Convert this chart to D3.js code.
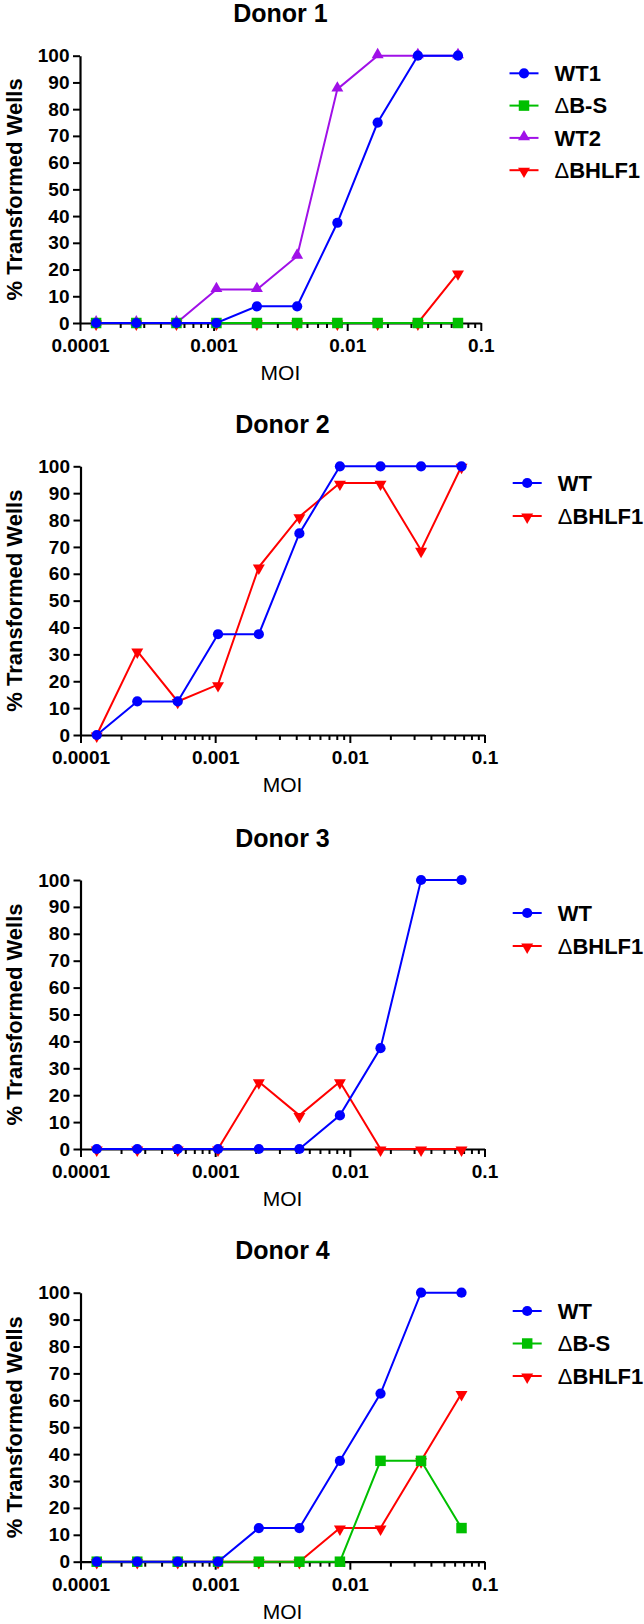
<!DOCTYPE html>
<html><head><meta charset="utf-8">
<script src="https://cdn.jsdelivr.net/npm/d3@7"></script>
<style>
body{margin:0;background:#fff}
svg text{font-family:"Liberation Sans",Arial,Helvetica,sans-serif}
</style>
</head><body>
<svg id="chart" width="644" height="1624"></svg>
<script>
// ---------- data ----------
const moi = [0.000132, 0.000264, 0.000527, 0.00105, 0.00211, 0.00422, 0.00844, 0.0169, 0.0338, 0.0675];
const donorTitles = ["Donor 1", "Donor 2", "Donor 3", "Donor 4"];

const donor1WT1    = [0, 0, 0, 0, 6.25, 6.25, 37.5, 75, 100, 100];
const donor1BS     = [0, 0, 0, 0, 0, 0, 0, 0, 0, 0];
const donor1WT2    = [0, 0, 0, 12.5, 12.5, 25, 87.5, 100, 100, 100];
const donor1BHLF1  = [0, 0, 0, 0, 0, 0, 0, 0, 0, 18.75];

const donor2WT     = [0, 12.5, 12.5, 37.5, 37.5, 75, 100, 100, 100, 100];
const donor2BHLF1  = [0, 31.25, 12.5, 18.75, 62.5, 81.25, 93.75, 93.75, 68.75, 100];

const donor3WT     = [0, 0, 0, 0, 0, 0, 12.5, 37.5, 100, 100];
const donor3BHLF1  = [0, 0, 0, 0, 25, 12.5, 25, 0, 0, 0];

const donor4WT     = [0, 0, 0, 0, 12.5, 12.5, 37.5, 62.5, 100, 100];
const donor4BS     = [0, 0, 0, 0, 0, 0, 0, 37.5, 37.5, 12.5];
const donor4BHLF1  = [0, 0, 0, 0, 0, 0, 12.5, 12.5, 37.5, 62.5];

const yTickValues = [0, 10, 20, 30, 40, 50, 60, 70, 80, 90, 100];
const xTickValues = [0.0001, 0.001, 0.01, 0.1];
const xTickLabels = ["0.0001", "0.001", "0.01", "0.1"];
const xMinorTicks = [2e-4,3e-4,4e-4,5e-4,6e-4,7e-4,8e-4,9e-4,
                     2e-3,3e-3,4e-3,5e-3,6e-3,7e-3,8e-3,9e-3,
                     2e-2,3e-2,4e-2,5e-2,6e-2,7e-2,8e-2,9e-2];
const xLabel = "MOI";
const yLabel = "% Transformed Wells";

// ---------- styles ----------
const styleWT   = {color: "#0000ff", shape: "circle"};
const styleBS   = {color: "#00bf00", shape: "square"};
const styleWT2  = {color: "#a010e8", shape: "up"};
const styleBH   = {color: "#ff0000", shape: "down"};

const panels = [
  {title: donorTitles[0], series: [
    {name: "WT1", values: donor1WT1, st: styleWT},
    {name: "\u0394B-S", values: donor1BS, st: styleBS},
    {name: "WT2", values: donor1WT2, st: styleWT2},
    {name: "\u0394BHLF1", values: donor1BHLF1, st: styleBH}]},
  {title: donorTitles[1], series: [
    {name: "WT", values: donor2WT, st: styleWT},
    {name: "\u0394BHLF1", values: donor2BHLF1, st: styleBH}]},
  {title: donorTitles[2], series: [
    {name: "WT", values: donor3WT, st: styleWT},
    {name: "\u0394BHLF1", values: donor3BHLF1, st: styleBH}]},
  {title: donorTitles[3], series: [
    {name: "WT", values: donor4WT, st: styleWT},
    {name: "\u0394B-S", values: donor4BS, st: styleBS},
    {name: "\u0394BHLF1", values: donor4BHLF1, st: styleBH}]}
];

// ---------- layout ----------
const layout = [
  {top: 55.7, bottom: 323,   x0: 80,   x1: 480.8, legX: 509.5, legY: 73.3,  legGap: 32.3},
  {top: 466.3, bottom: 735,  x0: 80.5, x1: 484.5, legX: 512.7, legY: 483,   legGap: 33},
  {top: 880,  bottom: 1149,  x0: 80.5, x1: 484.5, legX: 512.7, legY: 913,   legGap: 33},
  {top: 1292.7, bottom: 1561.7, x0: 80.5, x1: 484.5, legX: 512.7, legY: 1311, legGap: 32.5}
];

const svg = d3.select("#chart");

function symbolPath(shape) {
  if (shape === "circle") return d3.symbol(d3.symbolCircle, 82)();
  if (shape === "square") return d3.symbol(d3.symbolSquare, 110)();
  return d3.symbol(d3.symbolTriangle, 62)();
}
function symbolTransform(shape, x, y) {
  if (shape === "down") return `translate(${x},${y + 1}) rotate(180)`;
  if (shape === "up") return `translate(${x},${y - 1})`;
  return `translate(${x},${y})`;
}

panels.forEach((p, i) => {
  const L = layout[i];
  const g = svg.append("g");
  const x = d3.scaleLog().domain([0.0001, 0.1]).range([L.x0, L.x1]);
  const y = d3.scaleLinear().domain([0, 100]).range([L.bottom, L.top]);
  const cx = (L.x0 + L.x1) / 2;

  // title
  g.append("text").attr("x", cx).attr("y", L.top - 33.5)
    .attr("text-anchor", "middle").attr("font-size", 25).attr("font-weight", "bold")
    .text(p.title);

  // y axis
  const ya = g.append("g").attr("transform", `translate(${L.x0},0)`)
    .call(d3.axisLeft(y).tickValues(yTickValues).tickSize(7).tickSizeOuter(0).tickPadding(3.5));
  ya.select(".domain").attr("stroke", "#000").attr("stroke-width", 2.2);
  ya.selectAll(".tick line").attr("stroke", "#000").attr("stroke-width", 2);
  ya.selectAll(".tick text").attr("font-size", 19).attr("font-weight", "bold")
    .attr("font-family", '"Liberation Sans",Arial,sans-serif').attr("fill", "#000");

  // x axis major
  const xa = g.append("g").attr("transform", `translate(0,${L.bottom})`)
    .call(d3.axisBottom(x).tickValues(xTickValues).tickFormat((d, k) => xTickLabels[k])
      .tickSize(8).tickSizeOuter(0).tickPadding(8));
  xa.select(".domain").attr("stroke", "#000").attr("stroke-width", 2.2);
  xa.selectAll(".tick line").attr("stroke", "#000").attr("stroke-width", 2);
  xa.selectAll(".tick text").attr("font-size", 19).attr("font-weight", "bold")
    .attr("font-family", '"Liberation Sans",Arial,sans-serif').attr("fill", "#000");
  // x axis minor
  const xm = g.append("g").attr("transform", `translate(0,${L.bottom})`)
    .call(d3.axisBottom(x).tickValues(xMinorTicks).tickFormat("").tickSize(5).tickSizeOuter(0));
  xm.select(".domain").remove();
  xm.selectAll(".tick line").attr("stroke", "#000").attr("stroke-width", 2);

  // axis labels
  g.append("text").attr("x", cx).attr("y", L.bottom + 57)
    .attr("text-anchor", "middle").attr("font-size", 21).text(xLabel);
  g.append("text").attr("transform", `translate(21.5,${(L.top + L.bottom) / 2}) rotate(-90)`)
    .attr("text-anchor", "middle").attr("font-size", 22).attr("font-weight", "bold").text(yLabel);

  // series (drawn in reverse so first legend entry is on top)
  const line = d3.line().x((d, k) => x(moi[k])).y(d => y(d));
  p.series.slice().reverse().forEach(s => {
    const sg = g.append("g");
    sg.append("path").datum(s.values).attr("d", line)
      .attr("fill", "none").attr("stroke", s.st.color).attr("stroke-width", 2);
    sg.selectAll("path.pt").data(s.values).enter().append("path").attr("class", "pt")
      .attr("d", symbolPath(s.st.shape))
      .attr("transform", (d, k) => symbolTransform(s.st.shape, x(moi[k]), y(d)))
      .attr("fill", s.st.color);
  });

  // legend
  p.series.forEach((s, k) => {
    const ly = L.legY + k * L.legGap;
    const lg = g.append("g");
    lg.append("line").attr("x1", L.legX).attr("x2", L.legX + 29).attr("y1", ly).attr("y2", ly)
      .attr("stroke", s.st.color).attr("stroke-width", 2);
    lg.append("path").attr("d", symbolPath(s.st.shape))
      .attr("transform", symbolTransform(s.st.shape, L.legX + 14.5, ly)).attr("fill", s.st.color);
    const t = lg.append("text").attr("x", L.legX + 45).attr("y", ly + 7.8)
      .attr("font-size", 22).attr("font-weight", "bold");
    if (s.name.startsWith("\u0394")) {
      t.append("tspan").attr("font-weight", "normal").text("\u0394");
      t.append("tspan").text(s.name.slice(1));
    } else {
      t.text(s.name);
    }
  });
});
</script>
</body></html>
